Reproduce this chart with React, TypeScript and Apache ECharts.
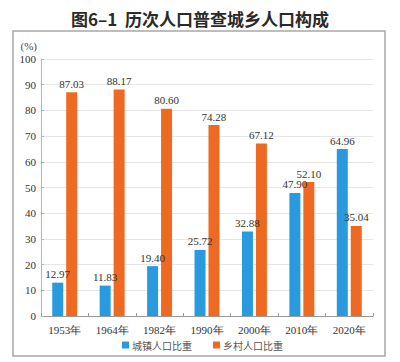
import React, { useEffect, useRef } from "react";
import * as echarts from "echarts";

const categories = ["1953年", "1964年", "1982年", "1990年", "2000年", "2010年", "2020年"];
const urban = [12.97, 11.83, 19.4, 25.72, 32.88, 47.9, 64.96];
const rural = [87.03, 88.17, 80.6, 74.28, 67.12, 52.1, 35.04];
const seriesNames = ["城镇人口比重", "乡村人口比重"];
const titleText = "图6–1  历次人口普查城乡人口构成";

export default function App() {
  const ref = useRef<HTMLDivElement>(null);
  useEffect(() => {
    if (!ref.current) return;
    const chart = echarts.init(ref.current, undefined, { renderer: "svg" });
    const serif = "Liberation Serif";
    const labelCfg = {
      show: true,
      position: "top",
      distance: 3,
      color: "#333",
      fontFamily: serif,
      fontSize: 11,
      formatter: (p: any) => p.value.toFixed(2),
    };
    chart.setOption({
      animation: false,
      backgroundColor: "#fff",
      title: {
        text: titleText,
        left: "center",
        top: 5,
        textStyle: {
          fontFamily: "Noto Sans CJK SC",
          fontSize: 17,
          fontWeight: "bold",
          color: "#2a2a2a",
        },
      },
      graphic: [
        {
          type: "rect",
          shape: { x: 13, y: 31, width: 372, height: 325 },
          style: { fill: "none", stroke: "#a8a8a8", lineWidth: 1.5 },
          silent: true,
        },
      ],
      legend: {
        bottom: 12,
        left: 122,
        padding: 0,
        itemWidth: 7,
        itemHeight: 7,
        itemGap: 21,
        icon: "rect",
        textStyle: { fontFamily: "Noto Sans CJK SC", fontSize: 10, color: "#555", padding: [0, 0, 0, -2] },
        data: seriesNames,
      },
      grid: { left: 41, right: 27, top: 59, bottom: 46 },
      xAxis: {
        type: "category",
        data: categories,
        axisLine: { lineStyle: { color: "#999", width: 1 } },
        axisTick: { show: true, inside: true, length: 3, lineStyle: { color: "#999" } },
        axisLabel: { fontFamily: serif, fontSize: 11, color: "#333", margin: 8 },
      },
      yAxis: {
        type: "value",
        min: 0,
        max: 100,
        interval: 10,
        name: "(%)",
        nameLocation: "end",
        nameGap: 8,
        nameTextStyle: { fontFamily: serif, fontSize: 11, color: "#444", align: "right", padding: [0, 4, 0, 0] },
        axisLine: { show: true, lineStyle: { color: "#8ec3de", width: 1 } },
        axisTick: { show: true, inside: true, length: 3, lineStyle: { color: "#8ec3de" } },
        axisLabel: { fontFamily: serif, fontSize: 11, color: "#333", margin: 5 },
        splitLine: { lineStyle: { color: "#e6e6e6", width: 1 } },
      },
      series: [
        {
          name: seriesNames[0],
          type: "bar",
          data: urban,
          barWidth: 11,
          barGap: "27%",
          itemStyle: { color: "#2a9ade" },
          label: labelCfg,
        },
        {
          name: seriesNames[1],
          type: "bar",
          data: rural,
          barWidth: 11,
          itemStyle: { color: "#ee6a22" },
          label: labelCfg,
        },
      ],
    });
    return () => chart.dispose();
  }, []);
  return (
    <div
      ref={ref}
      style={{ position: "fixed", left: 0, top: 0, width: 400, height: 362 }}
    />
  );
}
